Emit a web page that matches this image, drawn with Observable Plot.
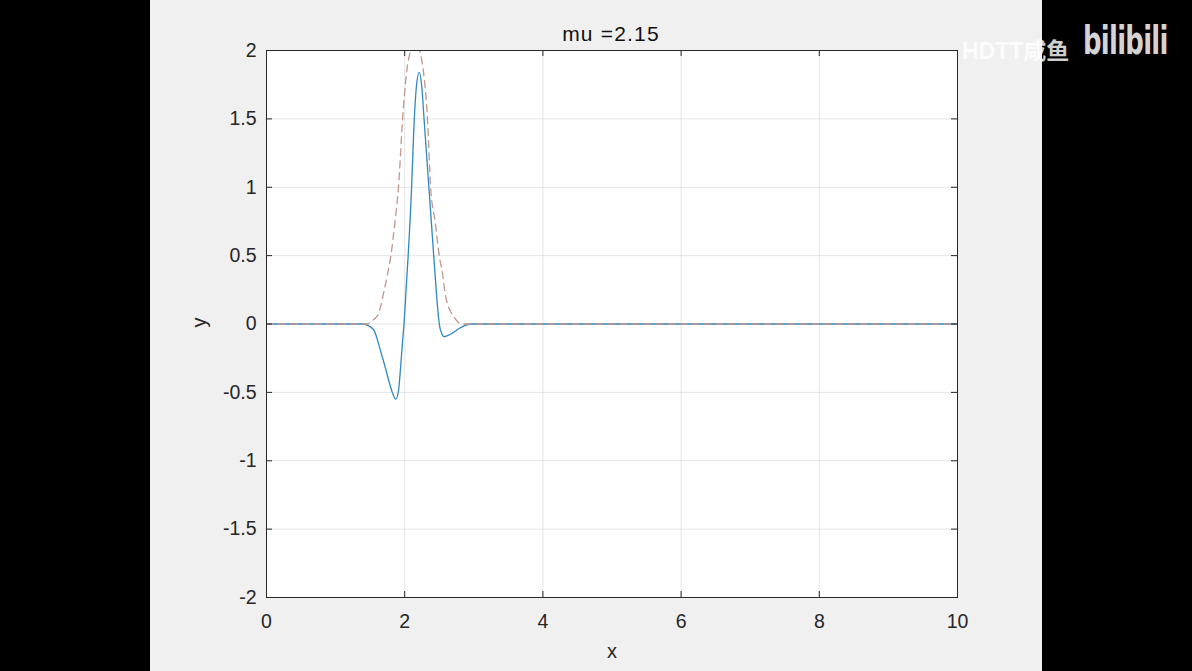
<!DOCTYPE html>
<html>
<head>
<meta charset="utf-8">
<script src="https://cdn.jsdelivr.net/npm/d3@7"></script>
<script src="https://cdn.jsdelivr.net/npm/@observablehq/plot@0.6"></script>
<style>
  html, body { margin: 0; padding: 0; background: #000; width: 1192px; height: 671px; overflow: hidden; }
  #fig { position: absolute; left: 150px; top: 0; width: 892px; height: 671px; background: #f0f0f0; }
  #chart { position: absolute; left: 0; top: 0; }
  .lbl { position: absolute; font-family: "Liberation Sans", Arial, sans-serif; color: #262626; font-size: 20px; white-space: nowrap; }
  #wm1 { position: absolute; left: 962px; top: 32px; font-family: "Liberation Sans", "Noto Sans CJK SC", sans-serif; font-size: 23px; font-weight: bold; color: rgba(255,255,255,0.82); }
  #wm2 { position: absolute; left: 1083px; top: 18px; font-family: "DejaVu Sans", sans-serif; font-size: 36px; font-weight: bold; color: #d4d4d4; letter-spacing: -1px; transform-origin: left top; transform: scale(0.72, 1.1); }
</style>
</head>
<body>
<div id="fig">
  <div id="chart"></div>
  <div class="lbl" id="title" style="left:461px; top:22px; width:0; display:flex; justify-content:center; color:#111; font-size:21px; letter-spacing:1.2px;"><span>mu =2.15</span></div>
  <div class="lbl" style="left:457px; top:640px; width:10px; text-align:center;">x</div>
  <div class="lbl" style="left:44px; top:311px; transform: rotate(-90deg);">y</div>
</div>
<div id="wm1">HDTT咸鱼</div>
<div id="wm2">bilibili</div>
<script>
// Tick values
const xTicks = [0, 2, 4, 6, 8, 10];
const yTicks = [-2, -1.5, -1, -0.5, 0, 0.5, 1, 1.5, 2];

// Solid blue curve
const waveX = [0, 1.40, 1.50, 1.56, 1.65, 1.72, 1.77, 1.82, 1.87, 1.91, 1.94, 1.97, 1.99, 2.02, 2.05, 2.10, 2.13, 2.17, 2.21, 2.25, 2.28, 2.35, 2.42, 2.46, 2.50, 2.54, 2.57, 2.62, 2.71, 2.78, 2.86, 2.95, 10];
const waveY = [0, 0, -0.02, -0.05, -0.195, -0.32, -0.415, -0.50, -0.55, -0.49, -0.32, -0.12, 0, 0.25, 0.5, 1.0, 1.4, 1.74, 1.84, 1.72, 1.5, 1.0, 0.5, 0.22, 0, -0.075, -0.093, -0.085, -0.06, -0.035, -0.013, 0, 0];

// Dashed envelope curve
const envX = [0, 1.45, 1.52, 1.57, 1.62, 1.70, 1.75, 1.80, 1.86, 1.91, 1.97, 2.03, 2.08, 2.15, 2.22, 2.27, 2.33, 2.375, 2.44, 2.50, 2.55, 2.58, 2.68, 2.73, 2.78, 2.85, 10];
const envY = [0, 0, 0.02, 0.04, 0.075, 0.24, 0.36, 0.5, 0.75, 1.0, 1.5, 1.85, 1.99, 2.06, 1.99, 1.85, 1.5, 1.0, 0.75, 0.5, 0.36, 0.24, 0.075, 0.04, 0.01, 0, 0];

const wave = waveX.map((x, i) => ({x, y: waveY[i]}));
const env = envX.map((x, i) => ({x, y: envY[i]}));

const W = 892, H = 671, mT = 50, mB = 74, mL = 116, mR = 85;
const plotH = H - mT - mB, plotW = W - mL - mR;
const ink = "#262626";

const chart = Plot.plot({
  width: W, height: H,
  marginTop: mT, marginBottom: mB, marginLeft: mL, marginRight: mR,
  style: { background: "transparent", fontFamily: "'Liberation Sans', Arial, sans-serif", fontSize: "19.5px", color: ink, overflow: "visible" },
  x: { domain: [0, 10], ticks: xTicks, tickSize: 0, tickPadding: 17, tickFormat: d => String(d), label: null },
  y: { domain: [-2, 2], ticks: yTicks, tickSize: 0, tickPadding: 10, tickFormat: d => String(d), label: null },
  marks: [
    Plot.frame({ fill: "white", stroke: "none" }),
    Plot.ruleX(xTicks, { stroke: ink, strokeOpacity: 0.12 }),
    Plot.ruleY(yTicks, { stroke: ink, strokeOpacity: 0.12 }),
    Plot.line(wave, { x: "x", y: "y", stroke: "#2f88c2", strokeWidth: 1.3, curve: "monotone-x", clip: true }),
    Plot.line(env, { x: "x", y: "y", stroke: "#c2958e", strokeWidth: 1.3, strokeDasharray: "7,5", curve: "monotone-x", clip: true }),
    Plot.ruleX(xTicks, { stroke: ink, insetTop: plotH - 6 }),
    Plot.ruleX(xTicks, { stroke: ink, insetBottom: plotH - 6 }),
    Plot.ruleY(yTicks, { stroke: ink, insetRight: plotW - 6 }),
    Plot.ruleY(yTicks, { stroke: ink, insetLeft: plotW - 6 }),
    Plot.frame({ stroke: ink, strokeWidth: 1 })
  ]
});
document.getElementById("chart").appendChild(chart);
</script>
</body>
</html>
